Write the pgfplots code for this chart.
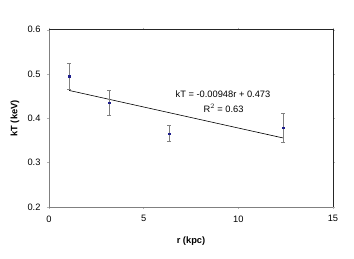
\documentclass[border=0pt]{standalone}
\usepackage{pgfplots}
\pgfplotsset{compat=1.18}
\usepackage{fontspec}
\setmainfont{Liberation Sans}
\begin{document}
\begin{tikzpicture}
\path[use as bounding box] (-49pt,-51pt) rectangle (305pt,207pt);
\begin{axis}[
  at={(0,0)}, anchor=south west,
  scale only axis, width=284pt, height=177.3pt,
  xmin=0, xmax=15, ymin=0.2, ymax=0.6,
  xtick={0,5,10,15}, ytick={0.2,0.3,0.4,0.5,0.6},
  yticklabel style={xshift=-3pt, /pgf/number format/fixed, /pgf/number format/fixed zerofill, /pgf/number format/precision=1},
  /pgf/number format/assume math mode=true,
  tick label style={font=\fontsize{9.3}{10}\selectfont, black},
  major tick length=2pt,
  tick style={gray!60, line width=0.4pt},
  tick align=outside,
  axis line style={draw=none},
  xlabel={\textbf{r (kpc)}}, ylabel={\textbf{kT (keV)}},
  label style={font=\fontsize{9.3}{10}\selectfont},
  xlabel style={at={(axis description cs:0.5,-0.19)}, anchor=center},
  ylabel style={at={(axis description cs:-0.12,0.5)}, anchor=center},
  xticklabel style={yshift=-3pt},
  clip=false,
]
\draw[gray, line width=0.8pt] (axis cs:0,0.6) -- (axis cs:0,0.2) -- (axis cs:15,0.2);
\draw[black!85, line width=0.8pt] (axis cs:0,0.6) -- (axis cs:15,0.6) -- (axis cs:15,0.2);
\addplot[black, line width=0.6pt, no marks] coordinates {(1.06,0.4630) (12.36,0.3558)};
\addplot[only marks, mark=square*, mark size=0.7pt, color={rgb,255:red,30;green,30;blue,140},
  error bars/.cd, y dir=both, y explicit,
  error bar style={gray, line width=0.5pt},
  error mark options={rotate=90, mark size=2pt, gray, line width=0.5pt}]
  coordinates {
  (1.06,0.495) +- (0,0.030)
  (3.17,0.435) +- (0,0.028)
  (6.34,0.366) +- (0,0.018)
  (12.36,0.379) +- (0,0.032)
  };
\node[font=\fontsize{9.3}{10}\selectfont] at (axis cs:9.19,0.455) {kT = -0.00948r + 0.473};
\node[font=\fontsize{9.3}{10}\selectfont] at (axis cs:9.22,0.423) {R$^2$ = 0.63};
\end{axis}
\end{tikzpicture}
\end{document}
